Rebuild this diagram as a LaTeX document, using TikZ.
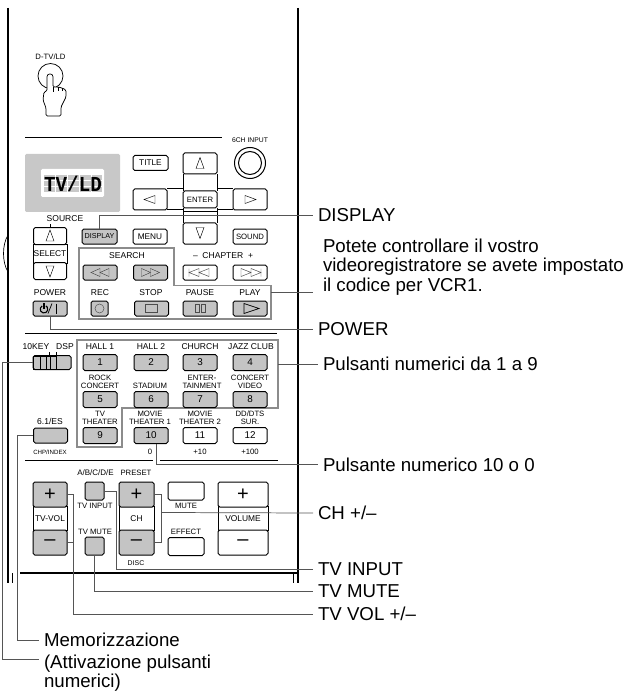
\documentclass[tikz,border=0pt]{standalone}
\usepackage{fontspec}
\setmainfont{Liberation Sans}
\newfontfamily\lcdfont{Liberation Mono}
\usetikzlibrary{calc}
\def\px{0.75pt}
\definecolor{btngray}{HTML}{C4C4C4}
\definecolor{lcdgray}{HTML}{C8C8C8}
\definecolor{leadgray}{HTML}{555555}
\definecolor{framegray}{HTML}{8C8C8C}
\tikzset{
  box/.style 2 args={minimum width=#1*\px,minimum height=#2*\px},
  btn/.style={draw=black,line width=0.75pt,rounded corners=1.3pt,inner sep=0pt,fill=white,font=\fontsize{6.2}{6.2}\selectfont},
  gbtn/.style={btn,fill=btngray},
  numkey/.style={font=\fontsize{7.4}{7}\selectfont},
  pm/.style={font=\fontsize{15}{15}\selectfont},
  seg/.style={draw=black,line width=0.75pt,inner sep=0pt,fill=white,font=\fontsize{6.3}{6.3}\selectfont},
  keycap/.style={inner sep=0pt,font=\fontsize{6.4}{7}\selectfont,align=center},
  keytwo/.style={inner sep=0pt,font=\fontsize{5.8}{6}\selectfont,align=center},
  tiny/.style={inner sep=0pt,font=\fontsize{5.2}{6}\selectfont,align=center},
  panel/.style={line width=1.4pt,black},
  rule/.style={line width=0.7pt,black},
  leader/.style={line width=0.55pt,leadgray},
  frameline/.style={line width=0.9pt,framegray},
  icon/.style={line width=0.35pt,black},
  softicon/.style={line width=0.35pt,black!70},
  lab/.style={anchor=west,inner sep=0pt,outer xsep=3.75pt,font=\fontsize{14}{14.7}\selectfont,align=left},
}
\begin{document}
\begin{tikzpicture}[x=0.75pt,y=-0.75pt]
\useasboundingbox (0,0) rectangle (626,695);
% case
\draw[panel] (8,8) -- (8,583);
\draw[panel] (298,8) -- (298,583);
\draw[panel] (20,573) -- (298,573);
\draw[line width=0.4pt] (12,573) -- (12,583) (293,573) -- (293,583);
\draw[line width=0.5pt] (8,235) .. controls (2,245) and (2,262) .. (8,272);
% D-TV/LD
\node[tiny,font=\fontsize{5.8}{6}\selectfont] (dtv) at (50.5,57) {D-TV/LD};
\draw[line width=0.55pt] (50.5,76) circle (12.5);
\draw[line width=0.55pt,fill=white,rounded corners=1pt]
  (46,116) -- (46,108) -- (43,100) -- (44,92) -- (47,91) -- (47,78)
  .. controls (47,73) and (53,73) .. (53,78) -- (53,87) -- (58,87) -- (62,88) -- (66,90)
  -- (66,97) -- (61,107) -- (61,116) -- cycle;
\draw[line width=0.4pt] (53,87) -- (53,92) (58,87) -- (58,91) (62,88) -- (62,91);
% upper rule
\draw[rule] (25,137) -- (222,137);
\node[tiny,font=\fontsize{5.1}{6}\selectfont] (sixch) at (250,140) {6CH INPUT};
\draw[line width=0.75pt] (250,163) circle (15.5) circle (11.5);
% display
\fill[lcdgray,rounded corners=1pt] (25,154) rectangle (120,212);
\fill[white,rounded corners=1pt] (41,169) rectangle (104,197);
\fill[lcdgray] (44,175) rectangle (102,192);
\draw[white,line width=0.6pt] (44,180) -- (102,180) (44,186) -- (102,186)
  (55,175) -- (55,192) (67,175) -- (67,192) (79,175) -- (79,192) (91,175) -- (91,192);
\node[inner sep=0pt,font=\lcdfont\bfseries\fontsize{16}{16}\selectfont,xscale=0.9] (lcd) at (73,184) {TV/LD};
% cursor cluster
\draw[line width=0.75pt] (183,174) -- (183,191) (217,174) -- (217,191)
  (183,208) -- (183,223) (217,208) -- (217,223)
  (167,189) -- (183,189) (217,189) -- (233,189)
  (167,210) -- (183,210) (217,210) -- (233,210)
  (183,212) -- (217,212);
\node[btn,box={35}{15}] (title) at (150.5,163) {TITLE};
\node[btn,box={34}{21}] (up) at (200,163.5) {};
\node[btn,box={34}{21}] (left) at (150,199.5) {};
\node[btn,box={34}{17},font=\fontsize{5.8}{6}\selectfont] (enter) at (200,199.5) {ENTER};
\node[btn,box={34}{21}] (right) at (250,199.5) {};
\node[btn,box={34}{21}] (down) at (200,233.5) {};
\draw[icon] ($(up)+(-4,5)$) -- ($(up)+(4,5)$) -- ($(up)+(0,-6)$) -- cycle;
\draw[icon] ($(down)+(-4,-6)$) -- ($(down)+(4,-6)$) -- ($(down)+(0,5)$) -- cycle;
\draw[icon] ($(left)+(-6,0)$) -- ($(left)+(5,-4)$) -- ($(left)+(5,4)$) -- cycle;
\draw[icon] ($(right)+(6,0)$) -- ($(right)+(-5,-4)$) -- ($(right)+(-5,4)$) -- cycle;
\node[gbtn,box={35}{15},font=\fontsize{5.4}{6}\selectfont] (display) at (99.5,236.5) {DISPLAY};
\node[btn,box={34}{15}] (menu) at (150,236.5) {MENU};
\node[btn,box={34}{15},font=\fontsize{5.8}{6}\selectfont] (sound) at (250,236.5) {SOUND};
% source
\node[keycap] (source) at (65,219) {SOURCE};
\node[seg,box={34}{19},fill=white] (select) at (50,253.5) {SELECT};
\node[btn,box={33}{17}] (srcup) at (50,236) {};
\node[btn,box={33}{17}] (srcdn) at (50,271) {};
\draw[line width=0.4pt] (50,228) -- (50,224);
\draw[icon] ($(srcup)+(-4,5)$) -- ($(srcup)+(4,5)$) -- ($(srcup)+(0,-6)$) -- cycle;
\draw[icon] ($(srcdn)+(-4,-5)$) -- ($(srcdn)+(4,-5)$) -- ($(srcdn)+(0,6)$) -- cycle;
% search frame
\coordinate (sf) at (79,248);
\draw[frameline] (sf) -- (174,248) -- (174,285.5) -- (271,285.5) -- (271,319) -- (79,319) -- cycle;
\node[keycap] (search) at (127,256) {SEARCH};
\node[keycap] (chapter) at (223,256) {--\ \ CHAPTER\ \ +};
\node[gbtn,box={34}{15}] (rew) at (100,272.5) {};
\node[gbtn,box={34}{15}] (ff) at (150.5,272.5) {};
\node[btn,box={34}{15}] (prev) at (200,272.5) {};
\node[btn,box={34}{15}] (next) at (250,272.5) {};
\draw[softicon] ($(rew)+(-9,0)$) -- ($(rew)+(0,-4)$) -- ($(rew)+(0,4)$) -- cycle ($(rew)+(0,0)$) -- ($(rew)+(9,-4)$) -- ($(rew)+(9,4)$) -- cycle;
\draw[softicon] ($(ff)+(9,0)$) -- ($(ff)+(0,-4)$) -- ($(ff)+(0,4)$) -- cycle ($(ff)+(0,0)$) -- ($(ff)+(-9,-4)$) -- ($(ff)+(-9,4)$) -- cycle;
\draw[softicon] ($(prev)+(-11,-4)$) -- ($(prev)+(-11,4)$) ($(prev)+(-11,0)$) -- ($(prev)+(-1,-4)$) -- ($(prev)+(-1,4)$) -- cycle ($(prev)+(-1,0)$) -- ($(prev)+(9,-4)$) -- ($(prev)+(9,4)$) -- cycle;
\draw[softicon] ($(next)+(11,-4)$) -- ($(next)+(11,4)$) ($(next)+(11,0)$) -- ($(next)+(1,-4)$) -- ($(next)+(1,4)$) -- cycle ($(next)+(1,0)$) -- ($(next)+(-9,-4)$) -- ($(next)+(-9,4)$) -- cycle;
\node[keycap] (rec) at (100,293) {REC};
\node[keycap] (stop) at (151,293) {STOP};
\node[keycap] (pause) at (200,293) {PAUSE};
\node[keycap] (play) at (250,293) {PLAY};
\node[keycap] (power) at (50,293) {POWER};
\node[gbtn,box={17}{15}] (recb) at (99.5,308.5) {};
\node[gbtn,box={34}{15}] (stopb) at (151.5,308.5) {};
\node[gbtn,box={34}{15}] (pauseb) at (200,308.5) {};
\node[gbtn,box={34}{15}] (playb) at (250,308.5) {};
\node[gbtn,box={34}{15}] (powerb) at (50,308.5) {};
\draw[softicon] (recb) circle (4.5);
\draw[softicon] ($(stopb)+(-6,-4)$) rectangle ($(stopb)+(6,4)$);
\draw[softicon] ($(pauseb)+(-5,-4)$) rectangle ($(pauseb)+(-1,4)$) ($(pauseb)+(1,-4)$) rectangle ($(pauseb)+(5,4)$);
\draw[line width=0.5pt] ($(playb)+(-6,-5)$) -- ($(playb)+(9,0)$) -- ($(playb)+(-6,5)$) -- cycle;
\draw[line width=0.8pt] ($(powerb)+(-7.9,-2.6)$) arc[start angle=240,end angle=-60,radius=3.8];
\draw[line width=0.8pt] ($(powerb)+(-6,-5.5)$) -- ($(powerb)+(-6,0)$);
\draw[line width=0.5pt] ($(powerb)+(-2,5)$) -- ($(powerb)+(2,-5)$);
\draw[line width=0.7pt] ($(powerb)+(6,-5)$) -- ($(powerb)+(6,5)$);
% middle rule
\draw[rule] (25,333) -- (277,333);
% numeric frame
\draw[frameline] (77,340) -- (278,340) -- (278,408) -- (122,408) -- (122,447) -- (77,447) -- cycle;
\node[keycap] at (100,347) {HALL 1};
\node[keycap] at (151,347) {HALL 2};
\node[keycap] at (200,347) {CHURCH};
\node[keycap] at (251,347) {JAZZ CLUB};
\node[gbtn,numkey,box={34}{16}] (n1) at (100,362.5) {1};
\node[gbtn,numkey,box={34}{16}] (n2) at (151,362.5) {2};
\node[gbtn,numkey,box={34}{16}] (n3) at (200,362.5) {3};
\node[gbtn,numkey,box={34}{16}] (n4) at (250,362.5) {4};
\node[keytwo] at (100,382) {ROCK\\CONCERT};
\node[keytwo] at (150,386) {STADIUM};
\node[keytwo] at (202,382) {ENTER-\\TAINMENT};
\node[keytwo] at (250,382) {CONCERT\\VIDEO};
\node[gbtn,numkey,box={34}{16}] (n5) at (100,399.5) {5};
\node[gbtn,numkey,box={34}{16}] (n6) at (151,399.5) {6};
\node[gbtn,numkey,box={34}{16}] (n7) at (200,399.5) {7};
\node[gbtn,numkey,box={34}{16}] (n8) at (250,399.5) {8};
\node[keytwo] at (100,418) {TV\\THEATER};
\node[keytwo] at (150,418) {MOVIE\\THEATER 1};
\node[keytwo] at (200,418) {MOVIE\\THEATER 2};
\node[keytwo] at (250,418) {DD/DTS\\SUR.};
\node[gbtn,numkey,box={34}{16}] (n9) at (100,435.5) {9};
\node[gbtn,numkey,box={34}{16}] (n10) at (151,435.5) {10};
\node[btn,numkey,box={34}{16}] (n11) at (200,435.5) {11};
\node[btn,numkey,box={34}{16}] (n12) at (250,435.5) {12};
% 10key slider
\node[keycap] (tenkey) at (36,347) {10KEY};
\node[keycap] (dsp) at (65,347) {DSP};
\node[gbtn,box={38}{14}] (slider) at (52,362.5) {};
\draw[line width=0.7pt] (33.5,356) rectangle (56,369.5) (40,356) -- (40,369.5) (46,356) -- (46,369.5) (50,356) -- (50,369.5);
\draw[line width=0.4pt] (49,355) -- (49,352) (56,355) -- (56,352);
\node[keycap] (es) at (50,421) {6.1/ES};
\node[gbtn,box={34}{15}] (esb) at (50.5,435.5) {};
\node[tiny,font=\fontsize{4.6}{6}\selectfont] at (50,452) {CHP/INDEX};
\node[tiny,font=\fontsize{5.8}{6}\selectfont] at (150,452) {0};
\node[tiny,font=\fontsize{5.8}{6}\selectfont] at (200,452) {+10};
\node[tiny,font=\fontsize{5.8}{6}\selectfont] at (250,452) {+100};
\draw[rule] (25,460) -- (153,460) (160,460) -- (278,460);
% lower keys
\node[tiny,font=\fontsize{6}{6}\selectfont] at (95.5,473) {A/B/C/D/E};
\node[tiny,font=\fontsize{5.8}{6}\selectfont] at (136,473) {PRESET};
\node[seg,box={34}{24}] (tvvolm) at (50,518.5) {TV-VOL};
\node[btn,pm,fill=btngray,box={34}{25}] (tvvolp) at (50,494.5) {+};
\node[btn,pm,fill=btngray,box={34}{25}] (tvvoln) at (50,542.5) {--};
\node[seg,box={35}{24}] (chm) at (136.5,518.5) {CH};
\node[btn,pm,fill=btngray,box={35}{25}] (chp) at (136.5,494.5) {+};
\node[btn,pm,fill=btngray,box={35}{25}] (chn) at (136.5,542.5) {--};
\node[seg,box={50}{24}] (volm) at (243,518.5) {VOLUME};
\node[btn,pm,box={50}{25}] (volp) at (243,494.5) {+};
\node[btn,pm,box={50}{25}] (voln) at (243,542.5) {--};
\node[gbtn,box={19}{18}] (tvinput) at (94.5,491) {};
\node[gbtn,box={19}{18}] (tvmute) at (94.5,546) {};
\node[btn,box={36}{18}] (muteb) at (186,491) {};
\node[btn,box={36}{18}] (effectb) at (186,546.5) {};
\node[keytwo] at (95,505.5) {TV INPUT};
\node[keytwo] at (95,532) {TV MUTE};
\node[keytwo] at (186,506) {MUTE};
\node[keytwo] at (186,532) {EFFECT};
\node[tiny] at (136,563) {DISC};
% right labels
\node[lab] (lDisplay) at (313,215) {DISPLAY};
\node[lab] (lVcr) at (318,267) {Potete controllare il vostro\\videoregistratore se avete impostato\\il codice per VCR1.};
\node[lab] (lPower) at (313,329) {POWER};
\node[lab] (lNum) at (318,364) {Pulsanti numerici da 1 a 9};
\node[lab] (lTen) at (318,464.5) {Pulsante numerico 10 o 0};
\node[lab] (lCh) at (313,513) {CH +/--};
\node[lab] (lInput) at (313,569) {TV INPUT};
\node[lab] (lMute) at (313,591.5) {TV MUTE};
\node[lab] (lVol) at (313,614) {TV VOL +/--};
\node[lab] (lMem) at (39,640) {Memorizzazione};
\node[lab] (lAtt) at (39,673) {(Attivazione pulsanti\\numerici)};
\coordinate (attIn) at (39,659);
% leaders
\draw[leader] (display.north) |- (lDisplay.west);
\coordinate (vcrOut) at (271,292);
\coordinate (vcrEnd) at (313,292);
\draw[leader] (vcrOut) -- (vcrEnd);
\draw[leader] (powerb.south) |- (lPower.west);
\coordinate (numOut) at (278,364);
\draw[leader] (numOut) -- (lNum.west);
\draw[leader] (n10.south) ++(5,0) |- (lTen.west);
\draw[leader] (chp.east) -- ++(7,0) |- (chn.east);
\draw[leader] (chp.east) ++(7,18) -- (lCh.west);
\draw[leader] (tvinput.east) -- ++(12,0) |- (lInput.west);
\draw[leader] (tvmute.south) |- (lMute.west);
\draw[leader] (tvvolp.east) -- ++(6,0) |- (lVol.west);
\draw[leader] (tvvoln.east) -- ++(6,0);
\draw[leader] (esb.west) -- ++(-16,0) |- (lMem.west);
\draw[leader] (slider.west) -- ++(-30,0) |- (attIn);
\end{tikzpicture}
\end{document}
